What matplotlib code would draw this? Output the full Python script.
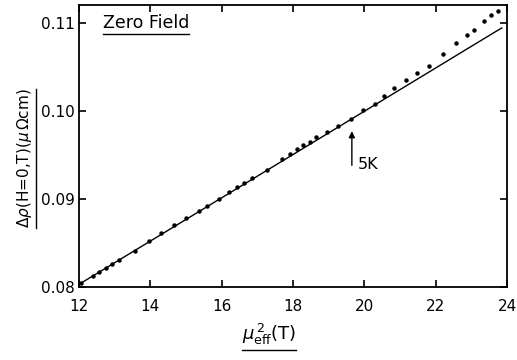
import numpy as np
import matplotlib.pyplot as plt
from matplotlib.lines import Line2D

mu2 = [12.07, 12.40, 12.57, 12.75, 12.92, 13.12, 13.56, 13.96, 14.31, 14.66,
       15.00, 15.36, 15.60, 15.92, 16.21, 16.42, 16.63, 16.85, 17.27, 17.70,
       17.91, 18.10, 18.29, 18.48, 18.64, 18.94, 19.27, 19.63, 19.97, 20.29,
       20.55, 20.83, 21.17, 21.47, 21.82, 22.20, 22.57, 22.88, 23.08, 23.35,
       23.56, 23.75]
drho = [0.0805, 0.0813, 0.0817, 0.0822, 0.0826, 0.0831, 0.0841, 0.0852, 0.0861, 0.0870,
        0.0878, 0.0886, 0.0892, 0.0900, 0.0908, 0.0913, 0.0918, 0.0924, 0.0933, 0.0945,
        0.0951, 0.0957, 0.0961, 0.0965, 0.0970, 0.0976, 0.0983, 0.0991, 0.1001, 0.1008,
        0.1017, 0.1026, 0.1035, 0.1043, 0.1051, 0.1064, 0.1077, 0.1086, 0.1092, 0.1102,
        0.1109, 0.1113]

# recta de ajuste
fit_x = [12.0, 23.85]
fit_y = [0.0803, 0.1094]

xticks = [12, 14, 16, 18, 20, 22, 24]
yticks = [0.08, 0.09, 0.10, 0.11]
ytick_labels = ['0.08', '0.09', '0.10', '0.11']

plt.rcParams['font.family'] = 'DejaVu Sans'
fig = plt.figure(figsize=(5.17, 3.6), dpi=100)
ax = fig.add_axes([0.1528, 0.2028, 0.8279, 0.7832])

ax.plot(fit_x, fit_y, color='black', lw=1.0)
ax.plot(mu2, drho, 'o', color='black', ms=2.2)

ax.set_xlim(12, 24)
ax.set_ylim(0.08, 0.1120)
ax.set_xticks(xticks)
ax.set_yticks(yticks)
ax.set_yticklabels(ytick_labels)
ax.tick_params(direction='in', top=True, right=True, length=5, width=1.2,
               labelsize=11)
ax.tick_params(axis='x', pad=9)
ax.tick_params(axis='y', pad=3)
for s in ax.spines.values():
    s.set_linewidth(1.3)

# flecha 5K
ax.annotate('', xy=(19.65, 0.0980), xytext=(19.65, 0.0935),
            arrowprops=dict(arrowstyle='-|>', color='black', lw=1.0,
                            mutation_scale=9))
ax.text(19.82, 0.0939, '5K', fontsize=11.5, va='center', ha='left')

t_zero = ax.text(12.67, 0.1100, 'Zero Field', fontsize=12.5, va='center', ha='left')

t_x = fig.text(0.52, 0.035, r'$\mu_{\mathrm{eff}}^{\,2}$(T)', fontsize=13,
               ha='center', va='bottom')
t_y = fig.text(0.048, 0.56, r'$\Delta\rho$(H=0,T)($\mu\,\Omega$cm)', fontsize=11,
               ha='center', va='center', rotation=90)

# subrayados
fig.canvas.draw()
r = fig.canvas.get_renderer()
inv = fig.transFigure.inverted()
for t in (t_zero, t_x):
    bb = t.get_window_extent(r).transformed(inv)
    fig.add_artist(Line2D([bb.x0, bb.x1], [bb.y0 - 0.006, bb.y0 - 0.006],
                          color='black', lw=1.0, transform=fig.transFigure))
bb = t_y.get_window_extent(r).transformed(inv)
fig.add_artist(Line2D([bb.x1 + 0.004, bb.x1 + 0.004], [bb.y0, bb.y1],
                      color='black', lw=1.0, transform=fig.transFigure))

fig.savefig('out.png', dpi=100)
